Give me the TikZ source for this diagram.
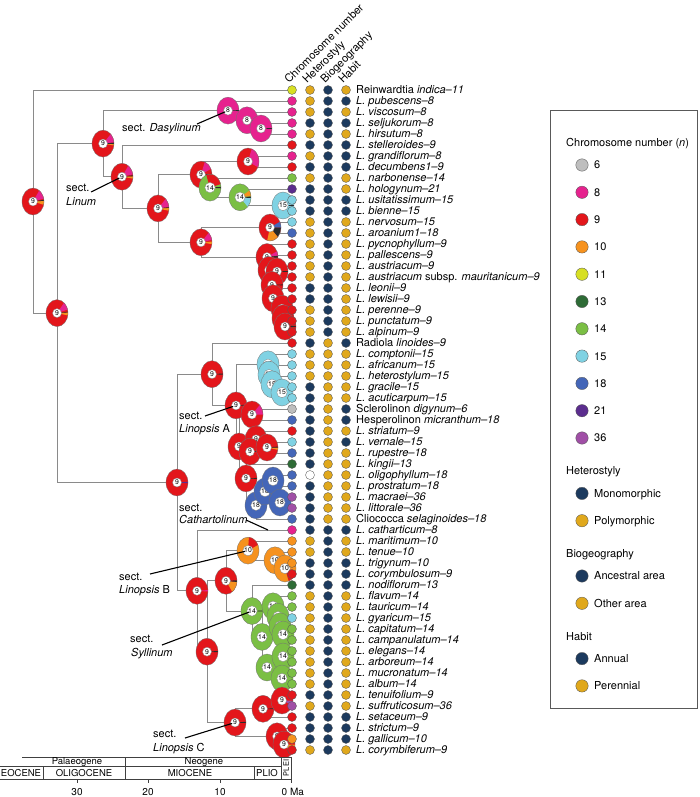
\documentclass[tikz,border=0pt]{standalone}
\usepackage{fontspec}
\setmainfont{TeX Gyre Heros}
\usetikzlibrary{calc}
\definecolor{c6}{HTML}{BEBEBE}
\definecolor{c8}{HTML}{E6228E}
\definecolor{c9}{HTML}{E3161B}
\definecolor{c10}{HTML}{F6921E}
\definecolor{c11}{HTML}{D7DF23}
\definecolor{c13}{HTML}{2E6B36}
\definecolor{c14}{HTML}{7BBF44}
\definecolor{c15}{HTML}{80D2E3}
\definecolor{c18}{HTML}{4466B8}
\definecolor{c21}{HTML}{5B2D8E}
\definecolor{c36}{HTML}{A04FA6}
\definecolor{cN}{HTML}{1C3A5E}
\definecolor{cG}{HTML}{E0A81C}
\definecolor{cW}{HTML}{FFFFFF}
\definecolor{treegray}{HTML}{8A8A8A}
\definecolor{pdark}{HTML}{2A2A2A}
\tikzset{
  branch/.style={draw=treegray, line width=0.8pt},
  pieline/.style={draw=black!55, line width=0.3pt},
  pielab/.style={circle, fill=white, draw=black!50, line width=0.3pt, inner sep=0.5pt, minimum size=9pt, font=\fontsize{6.8}{6.8}\selectfont},
  tipdot/.style={draw=black!65, line width=0.35pt},
  tiplab/.style={anchor=base west, inner sep=0pt, font=\fontsize{11}{11}\selectfont},
  hdr/.style={rotate=45, anchor=base west, inner sep=0pt, font=\fontsize{11}{11}\selectfont},
  sectlab/.style={anchor=base west, inner sep=0pt, font=\fontsize{11}{11}\selectfont},
  leaderline/.style={draw=black, line width=1.1pt, shorten >=3pt},
  tsline/.style={draw=black!75, line width=0.6pt},
  tstext/.style={inner sep=0pt, font=\fontsize{9.5}{9.5}\selectfont},
  legtext/.style={anchor=base west, inner sep=0pt, font=\fontsize{11}{11}\selectfont},
  legbox/.style={draw=black!65, line width=0.9pt},
}
\newcommand\drawpie[4]{%
  \fill[#2] (#1) ellipse[x radius=11pt, y radius=13.5pt];
  \foreach \pc/\pa/\pb in {#4}{%
    \fill[\pc] (#1) -- ++(\pa:11pt and 13.5pt) arc[start angle=\pa, end angle=\pb, x radius=11pt, y radius=13.5pt] -- cycle;}
  \draw[pieline] (#1) ellipse[x radius=11pt, y radius=13.5pt];
  \node[pielab] (l#1) at (#1) {#3};
}
\begin{document}
\begin{tikzpicture}[x=1pt, y=-1pt]
\useasboundingbox (0,0) rectangle (700,797);
% tips
\foreach \i in {1,...,61} \coordinate (t\i) at (292,{90+(\i-1)*11});
% internal nodes
\coordinate (root) at (33,201.5);
\coordinate (nA) at (57,313.1);
\coordinate (nB) at (103,143.6);
\coordinate (nD) at (228,110.6);
\coordinate (nE) at (247,120.3);
\coordinate (nF) at (261,128.5);
\coordinate (nC) at (122,176.7);
\coordinate (nG) at (158,208.4);
\coordinate (nH) at (201,174.6);
\coordinate (nJ) at (248,161.5);
\coordinate (nK) at (210,187.6);
\coordinate (nL) at (240,197.3);
\coordinate (nM) at (283,205.5);
\coordinate (nN) at (270,227.5);
\coordinate (nI) at (201,242.3);
\coordinate (na) at (267,257);
\coordinate (nb) at (269,270);
\coordinate (nX1) at (277,271.5);
\coordinate (nc) at (272,284.9);
\coordinate (nd) at (273,298.3);
\coordinate (ne) at (282,308.6);
\coordinate (nX3) at (283,318.3);
\coordinate (nX4) at (285,326.5);
\coordinate (nR1) at (177,482.5);
\coordinate (nU) at (212,374.2);
\coordinate (nV) at (236,405.4);
\coordinate (nW) at (268,364.3);
\coordinate (nW2) at (269,374.6);
\coordinate (nW3) at (272,384.3);
\coordinate (nW4) at (282,392.5);
\coordinate (nZ) at (239,446.5);
\coordinate (nSH) at (252,414.5);
\coordinate (nZ2) at (246,478.4);
\coordinate (nZ3) at (250,451.6);
\coordinate (nZ3b) at (256,439.3);
\coordinate (nZ3c) at (267,447.5);
\coordinate (nZ4) at (256,505.3);
\coordinate (nZ4b) at (265,491.5);
\coordinate (nZ4c) at (273,480.5);
\coordinate (nZ4e) at (280,502.5);
\coordinate (nR2) at (197,590.8);
\coordinate (nR3) at (207,651.7);
\coordinate (nS1) at (226,580.8);
\coordinate (nLB) at (248,550.6);
\coordinate (nLB2) at (275,560.3);
\coordinate (nLB3) at (285,568.5);
\coordinate (nSY) at (252,611);
\coordinate (nSY2) at (262,636.9);
\coordinate (nSY3a) at (273,606.3);
\coordinate (nSY3b) at (278,616.6);
\coordinate (nSY3c) at (280,626.3);
\coordinate (nSY3d) at (283,634.5);
\coordinate (nSY4) at (267,667.5);
\coordinate (nSY4a) at (283,656.5);
\coordinate (nSY4b) at (282,678.5);
\coordinate (nLC) at (235,722.5);
\coordinate (nLC1) at (263,708.8);
\coordinate (nLC1a) at (282,700.5);
\coordinate (nLC2) at (277,736.3);
\coordinate (nLC2a) at (284,744.5);
% branches
\foreach \p/\c in {root/t1, root/nA, nA/nB, nA/nR1, nB/nD, nB/nC,
  nD/t2, nD/nE, nE/t3, nE/nF, nF/t4, nF/t5, nC/t6, nC/nG, nG/nH, nG/nI,
  nH/nJ, nH/nK, nJ/t7, nJ/t8, nK/t9, nK/nL, nL/t10, nL/nM, nM/t11, nM/t12,
  nI/nN, nI/na, nN/t13, nN/t14,
  na/t15, na/nb, nb/t16, nb/nc, nc/nX1, nc/nd, nX1/t17, nX1/t18, nd/t19, nd/ne,
  ne/t20, ne/nX3, nX3/t21, nX3/nX4, nX4/t22, nX4/t23,
  nR1/nU, nR1/nR2, nU/t24, nU/nV, nV/nW, nV/nZ,
  nW/t25, nW/nW2, nW2/t26, nW2/nW3, nW3/t27, nW3/nW4, nW4/t28, nW4/t29,
  nZ/nSH, nZ/nZ2, nSH/t30, nSH/t31, nZ2/nZ3, nZ2/nZ4,
  nZ3/nZ3b, nZ3/t35, nZ3b/t32, nZ3b/nZ3c, nZ3c/t33, nZ3c/t34,
  nZ4/nZ4b, nZ4/t40, nZ4b/nZ4c, nZ4b/nZ4e, nZ4c/t36, nZ4c/t37, nZ4e/t38, nZ4e/t39,
  nR2/t41, nR2/nR3, nR3/nS1, nR3/nLC, nS1/nLB, nS1/nSY,
  nLB/t42, nLB/nLB2, nLB2/t43, nLB2/nLB3, nLB3/t44, nLB3/t45,
  nSY/t46, nSY/nSY2, nSY2/nSY3a, nSY2/nSY4,
  nSY3a/t47, nSY3a/nSY3b, nSY3b/t48, nSY3b/nSY3c, nSY3c/t49, nSY3c/nSY3d, nSY3d/t50, nSY3d/t51,
  nSY4/nSY4a, nSY4/nSY4b, nSY4a/t52, nSY4a/t53, nSY4b/t54, nSY4b/t55,
  nLC/nLC1, nLC/nLC2, nLC1/nLC1a, nLC1/t58, nLC1a/t56, nLC1a/t57,
  nLC2/t59, nLC2/nLC2a, nLC2a/t60, nLC2a/t61}
  \draw[branch] (\p) |- (\c);
% pies
\drawpie{root}{c9}{9}{c8/12/55, c10/-14/3, pdark/3/7}
\drawpie{nA}{c9}{9}{c8/15/50, c10/-10/3, pdark/3/6}
\drawpie{nB}{c9}{9}{c8/5/45, c10/-8/-2, pdark/-2/4}
\drawpie{nD}{c8}{8}{pdark/-2/2}
\drawpie{nE}{c8}{8}{pdark/-2/2}
\drawpie{nF}{c8}{8}{pdark/-2/2}
\drawpie{nC}{c9}{9}{c8/10/55, c10/-8/2, pdark/2/6}
\drawpie{nG}{c9}{9}{c8/5/45, c10/-10/2, pdark/2/5}
\drawpie{nH}{c9}{9}{c8/25/70, pdark/-2/3}
\drawpie{nJ}{c9}{9}{c8/-25/70}
\drawpie{nK}{c14}{14}{c9/15/110, pdark/-3/3}
\drawpie{nL}{c14}{14}{c10/5/30, c15/-45/0, pdark/-3/3}
\drawpie{nM}{c15}{15}{pdark/-2/2}
\drawpie{nI}{c9}{9}{c8/10/45, c10/-8/3}
\drawpie{nN}{c9}{9}{c18/0/25, pdark/-45/0, c10/-105/-45}
\drawpie{na}{c9}{9}{c8/5/25, pdark/-3/5}
\drawpie{nb}{c9}{9}{pdark/-2/2}
\drawpie{nX1}{c9}{9}{pdark/-2/2}
\drawpie{nc}{c9}{9}{pdark/-2/2}
\drawpie{nd}{c9}{9}{pdark/-2/2}
\drawpie{ne}{c9}{9}{pdark/-2/2}
\drawpie{nX3}{c9}{9}{pdark/-2/2}
\drawpie{nX4}{c9}{9}{pdark/-2/2}
\drawpie{nR1}{c9}{9}{c21/-3/3}
\drawpie{nU}{c9}{9}{pdark/-2/3}
\drawpie{nW}{c15}{15}{c15/0/1}
\drawpie{nW2}{c15}{15}{c15/0/1}
\drawpie{nW3}{c15}{15}{c15/0/1}
\drawpie{nW4}{c15}{15}{c15/0/1}
\drawpie{nV}{c9}{9}{pdark/-2/3}
\drawpie{nSH}{c9}{9}{c8/0/45}
\drawpie{nZ}{c9}{9}{pdark/-2/2}
\drawpie{nZ3b}{c9}{9}{pdark/-2/2}
\drawpie{nZ3}{c9}{9}{pdark/-2/2}
\drawpie{nZ3c}{c9}{9}{c10/-10/0, pdark/0/4}
\drawpie{nZ2}{c9}{9}{pdark/-2/2}
\drawpie{nZ4}{c18}{18}{c18/0/1}
\drawpie{nZ4b}{c18}{18}{c18/0/1}
\drawpie{nZ4c}{c18}{18}{c18/0/1}
\drawpie{nZ4e}{c18}{18}{c18/0/1}
\drawpie{nR2}{c9}{9}{c8/-3/3}
\drawpie{nR3}{c9}{9}{pdark/-2/3}
\drawpie{nS1}{c9}{9}{c10/-55/-5, pdark/-5/2}
\drawpie{nLB}{c10}{10}{c9/25/85}
\drawpie{nLB2}{c10}{10}{c10/0/1}
\drawpie{nLB3}{c10}{10}{c9/-70/-10}
\drawpie{nSY}{c14}{14}{pdark/-2/2}
\drawpie{nSY2}{c14}{14}{c14/0/1}
\drawpie{nSY3a}{c14}{14}{c14/0/1}
\drawpie{nSY3b}{c14}{14}{c14/0/1}
\drawpie{nSY3c}{c14}{14}{c15/-20/0}
\drawpie{nSY3d}{c14}{14}{c14/0/1}
\drawpie{nSY4}{c14}{14}{c14/0/1}
\drawpie{nSY4a}{c14}{14}{c14/0/1}
\drawpie{nSY4b}{c14}{14}{c14/0/1}
\drawpie{nLC}{c9}{9}{pdark/-2/3}
\drawpie{nLC1}{c9}{9}{pdark/-2/2}
\drawpie{nLC1a}{c9}{9}{c36/-20/0}
\drawpie{nLC2}{c9}{9}{pdark/-2/2}
\drawpie{nLC2a}{c9}{9}{c10/-40/0}
% tip dots and labels
\foreach \i/\cc/\hs/\bg/\hb/\nm in {
1/c11/cG/cN/cG/{Reinwardtia \textit{indica–11}},
2/c8/cG/cN/cN/{\textit{L. pubescens–8}},
3/c8/cG/cN/cG/{\textit{L. viscosum–8}},
4/c8/cN/cN/cN/{\textit{L. seljukorum–8}},
5/c8/cG/cN/cG/{\textit{L. hirsutum–8}},
6/c9/cN/cN/cN/{\textit{L. stelleroides–9}},
7/c8/cG/cN/cN/{\textit{L. grandiflorum–8}},
8/c9/cN/cN/cN/{\textit{L. decumbens1–9}},
9/c14/cG/cN/cG/{\textit{L. narbonense–14}},
10/c21/cN/cN/cG/{\textit{L. hologynum–21}},
11/c15/cN/cN/cN/{\textit{L. usitatissimum–15}},
12/c15/cN/cN/cN/{\textit{L. bienne–15}},
13/c15/cG/cN/cG/{\textit{L. nervosum–15}},
14/c18/cG/cN/cG/{\textit{L. aroanium1–18}},
15/c9/cG/cN/cG/{\textit{L. pycnophyllum–9}},
16/c9/cG/cN/cG/{\textit{L. pallescens–9}},
17/c9/cG/cN/cG/{\textit{L. austriacum–9}},
18/c9/cG/cN/cG/{\textit{L. austriacum} subsp. \textit{mauritanicum–9}},
19/c9/cN/cN/cG/{\textit{L. leonii–9}},
20/c9/cN/cN/cG/{\textit{L. lewisii–9}},
21/c9/cG/cN/cG/{\textit{L. perenne–9}},
22/c9/cG/cN/cG/{\textit{L. punctatum–9}},
23/c9/cG/cN/cG/{\textit{L. alpinum–9}},
24/c9/cN/cG/cN/{Radiola \textit{linoides–9}},
25/c15/cG/cG/cG/{\textit{L. comptonii–15}},
26/c15/cG/cG/cG/{\textit{L. africanum–15}},
27/c15/cG/cG/cG/{\textit{L. heterostylum–15}},
28/c15/cN/cG/cG/{\textit{L. gracile–15}},
29/c15/cN/cG/cG/{\textit{L. acuticarpum–15}},
30/c6/cN/cG/cN/{Sclerolinon \textit{digynum–6}},
31/c18/cN/cG/cN/{Hesperolinon \textit{micranthum–18}},
32/c9/cN/cG/cG/{\textit{L. striatum–9}},
33/c15/cN/cG/cN/{\textit{L. vernale–15}},
34/c18/cN/cG/cG/{\textit{L. rupestre–18}},
35/c13/cN/cG/cG/{\textit{L. kingii–13}},
36/c18/cW/cG/cG/{\textit{L. oligophyllum–18}},
37/c18/cN/cG/cG/{\textit{L. prostratum–18}},
38/c36/cN/cG/cG/{\textit{L. macraei–36}},
39/c36/cN/cG/cG/{\textit{L. littorale–36}},
40/c18/cN/cG/cG/{Cliococca \textit{selaginoides–18}},
41/c8/cN/cN/cN/{\textit{L. catharticum–8}},
42/c10/cG/cN/cG/{\textit{L. maritimum–10}},
43/c10/cG/cN/cG/{\textit{L. tenue–10}},
44/c10/cN/cN/cN/{\textit{L. trigynum–10}},
45/c9/cN/cN/cN/{\textit{L. corymbulosum–9}},
46/c13/cN/cN/cN/{\textit{L. nodiflorum–13}},
47/c14/cG/cN/cG/{\textit{L. flavum–14}},
48/c14/cG/cN/cG/{\textit{L. tauricum–14}},
49/c15/cG/cN/cG/{\textit{L. gyaricum–15}},
50/c14/cG/cN/cG/{\textit{L. capitatum–14}},
51/c14/cG/cN/cG/{\textit{L. campanulatum–14}},
52/c14/cG/cN/cG/{\textit{L. elegans–14}},
53/c14/cG/cN/cG/{\textit{L. arboreum–14}},
54/c14/cG/cN/cG/{\textit{L. mucronatum–14}},
55/c14/cG/cN/cG/{\textit{L. album–14}},
56/c9/cN/cN/cG/{\textit{L. tenuifolium–9}},
57/c36/cG/cN/cG/{\textit{L. suffruticosum–36}},
58/c9/cN/cN/cN/{\textit{L. setaceum–9}},
59/c9/cN/cN/cN/{\textit{L. strictum–9}},
60/c10/cN/cN/cN/{\textit{L. gallicum–10}},
61/c9/cG/cN/cG/{\textit{L. corymbiferum–9}}}{
  \filldraw[fill=\cc, tipdot] (t\i) circle[radius=4.5pt];
  \filldraw[fill=\hs, tipdot] ([xshift=18pt]t\i) circle[radius=4.5pt];
  \filldraw[fill=\bg, tipdot] ([xshift=36pt]t\i) circle[radius=4.5pt];
  \filldraw[fill=\hb, tipdot] ([xshift=54pt]t\i) circle[radius=4.5pt];
  \node[tiplab] (tl\i) at ($(t\i)+(64,3.9)$) {\nm};
}
% column headers
\node[hdr] (h1) at (289,84) {Chromosome number};
\node[hdr] (h2) at (307,84) {Heterostyly};
\node[hdr] (h3) at (325,84) {Biogeography};
\node[hdr] (h4) at (343,84) {Habit};
% section labels
\node[sectlab] (sD) at (122,131.8) {sect. \textit{Dasylinum}};
\node[sectlab] (sL1) at (66,191.8) {sect.};
\node[sectlab] (sL2) at (66,205.8) {\textit{Linum}};
\node[sectlab] (sA1) at (179,419.8) {sect.};
\node[sectlab] (sA2) at (179,432.8) {\textit{Linopsis} A};
\node[sectlab] (sCa1) at (179,511.8) {sect.};
\node[sectlab] (sCa2) at (179,523.8) {\textit{Cathartolinum}};
\node[sectlab] (sB1) at (119,580.8) {sect.};
\node[sectlab] (sB2) at (119,593.8) {\textit{Linopsis} B};
\node[sectlab] (sS1) at (130,642.8) {sect.};
\node[sectlab] (sS2) at (131,656.8) {\textit{Syllinum}};
\node[sectlab] (sC1) at (153,737.8) {sect.};
\node[sectlab] (sC2) at (153,751.8) {\textit{Linopsis} C};
\coordinate (ldD) at (197,124);
\coordinate (ldL) at (91,192);
\coordinate (ldA) at (205,416);
\coordinate (ldCa) at (246,520);
\coordinate (cath) at (268,530);
\coordinate (ldB) at (150,574);
\coordinate (ldS) at (162,645);
\coordinate (ldC) at (185,738);
\draw[leaderline] (ldD) -- (nD);
\draw[leaderline] (ldL) -- (nC);
\draw[leaderline] (ldA) -- (nV);
\draw[leaderline, shorten >=0pt] (ldCa) -- (cath);
\draw[leaderline] (ldB) -- (nLB);
\draw[leaderline] (ldS) -- (nSY);
\draw[leaderline] (ldC) -- (nLC);
% time scale
\draw[tsline] (22,757) -- (291,757);
\draw[tsline] (0,766) -- (281,766);
\draw[tsline] (0,779) -- (291,779);
\draw[tsline] (291,757) -- (291,779);
\draw[tsline] (281,757) -- (281,779);
\draw[tsline] (125,757) -- (125,779);
\draw[tsline] (43,766) -- (43,779);
\draw[tsline] (254,766) -- (254,779);
\foreach \x in {77,148,220,291} \draw[tsline] (\x,779) -- (\x,783);
\node[tstext] (tsPal) at (77,761.8) {Palaeogene};
\node[tstext] (tsNeo) at (204,761.8) {Neogene};
\node[tstext] (tsEoc) at (21,772.8) {EOCENE};
\node[tstext] (tsOli) at (84,772.8) {OLIGOCENE};
\node[tstext] (tsMio) at (190,772.8) {MIOCENE};
\node[tstext] (tsPli) at (267,772.8) {PLIO};
\node[tstext, rotate=90, font=\fontsize{7.5}{7.5}\selectfont] (tsPle) at (286.2,768) {PLEI};
\node[tstext, font=\fontsize{10}{10}\selectfont] (a30) at (77,792) {30};
\node[tstext, font=\fontsize{10}{10}\selectfont] (a20) at (148,792) {20};
\node[tstext, font=\fontsize{10}{10}\selectfont] (a10) at (220,792) {10};
\node[tstext, font=\fontsize{10}{10}\selectfont, anchor=west] (a0) at (281.5,792) {0 Ma};
% legend
\draw[legbox] (550,110) rectangle (697,708);
\node[legtext] (lgT1) at (566,146.6) {Chromosome number (\textit{n})};
\foreach \k/\cc/\tt/\yy in {1/c6/6/165, 2/c8/8/192.3, 3/c9/9/219.6, 4/c10/10/246.9,
  5/c11/11/274.2, 6/c13/13/301.5, 7/c14/14/328.8, 8/c15/15/356.1, 9/c18/18/383.4,
  10/c21/21/410.7, 11/c36/36/438}{
  \filldraw[fill=\cc, tipdot] (582,\yy) circle[radius=6.2pt];
  \node[legtext] (lgc\k) at (594,\yy+3.9) {\tt};
}
\node[legtext] (lgT2) at (566,474.9) {Heterostyly};
\node[legtext] (lgT3) at (566,557.6) {Biogeography};
\node[legtext] (lgT4) at (566,640.2) {Habit};
\foreach \k/\cc/\tt/\yy in {1/cN/Monomorphic/493.4, 2/cG/Polymorphic/520.7,
  3/cN/Ancestral area/576, 4/cG/Other area/603.3, 5/cN/Annual/658.6, 6/cG/Perennial/685.9}{
  \filldraw[fill=\cc, tipdot] (582,\yy) circle[radius=6.2pt];
  \node[legtext] (lgo\k) at (594,\yy+3.9) {\tt};
}
\end{tikzpicture}
\end{document}
